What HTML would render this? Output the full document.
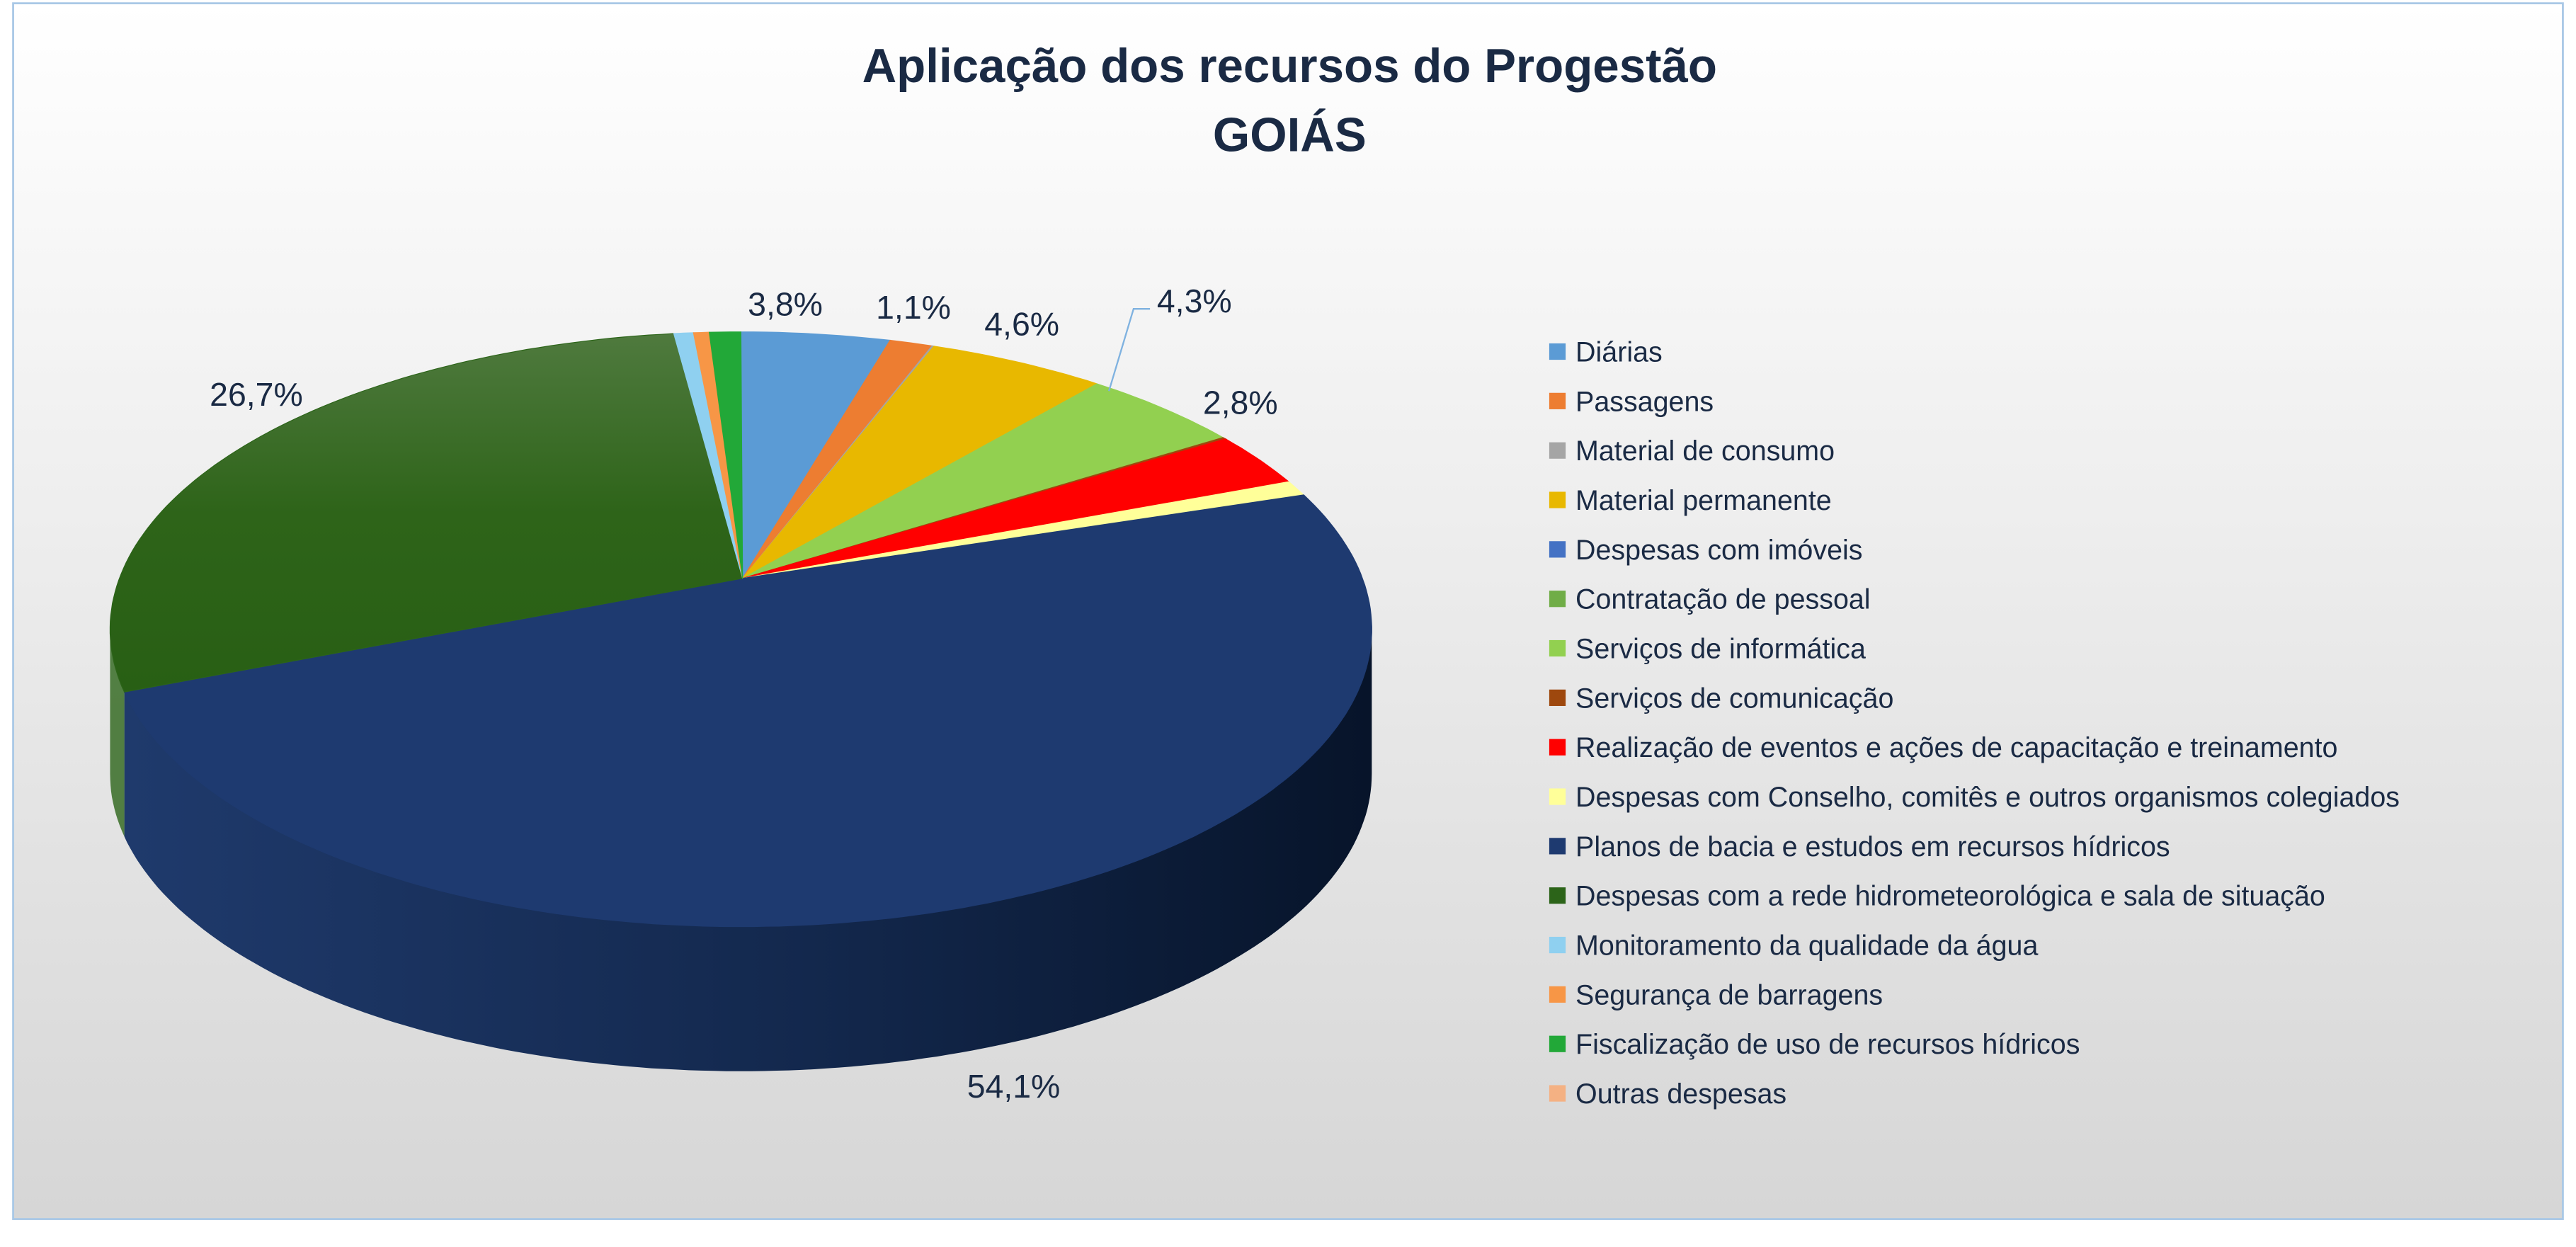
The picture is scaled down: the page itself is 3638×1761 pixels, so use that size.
<!DOCTYPE html>
<html><head><meta charset="utf-8">
<style>
html,body{margin:0;padding:0;background:#fff;}
svg{display:block;font-family:"Liberation Sans","DejaVu Sans",sans-serif;}
</style></head>
<body>
<svg id="chart" width="3638" height="1761" viewBox="0 0 1568 759" xmlns="http://www.w3.org/2000/svg">
<defs>
<linearGradient id="bg" x1="0" y1="0" x2="0" y2="1"><stop offset="0" stop-color="#ffffff"/><stop offset="1" stop-color="#d6d6d6"/></linearGradient>
<linearGradient id="sideg" x1="0" y1="0" x2="1" y2="0"><stop offset="0" stop-color="#1f3a6c"/><stop offset="0.55" stop-color="#13284d"/><stop offset="1" stop-color="#07142a"/></linearGradient>
<linearGradient id="greeng" x1="0" y1="0" x2="0" y2="1"><stop offset="0" stop-color="#4f7a3e"/><stop offset="0.5" stop-color="#2e6419"/><stop offset="1" stop-color="#285f14"/></linearGradient>
</defs>
<rect x="8" y="2" width="1552" height="740" fill="url(#bg)" stroke="#a9c8e6" stroke-width="1.2"/>
<text x="785" y="50" text-anchor="middle" font-size="29" font-weight="bold" fill="#1a2a44">Aplicação dos recursos do Progestão</text>
<text x="785" y="92" text-anchor="middle" font-size="29" font-weight="bold" fill="#1a2a44">GOIÁS</text>
<g id="sides"></g>
<g id="slices"></g>
<g id="labels"></g>
<g id="legend"></g>
</svg>
<script>
const categories = ["Diárias","Passagens","Material de consumo","Material permanente","Despesas com imóveis","Contratação de pessoal","Serviços de informática","Serviços de comunicação","Realização de eventos e ações de capacitação e treinamento","Despesas com Conselho, comitês e outros organismos colegiados","Planos de bacia e estudos em recursos hídricos","Despesas com a rede hidrometeorológica e sala de situação","Monitoramento da qualidade da água","Segurança de barragens","Fiscalização de uso de recursos hídricos","Outras despesas"];
const values = [3.8,1.1,0.05,4.6,0,0,4.3,0.1,2.8,0.8,54.1,26.7,0.5,0.4,0.8,0];
const labelTexts = ["3,8%","1,1%","","4,6%","","","4,3%","","2,8%","","54,1%","26,7%","","","",""];
const colors = ["#5b9bd5","#ed7d31","#a5a5a5","#e8b800","#4472c4","#70ad47","#92d050","#9e480e","#ff0000","#ffff99","#1e3a70","#2c6419","#8fd0f0","#f79646","#22a838","#f4b183"];

const NS="http://www.w3.org/2000/svg";
const cx=451, cy=383, rx=384, ry=181, ax=452, ay=352, depth=88;
function pt(a){return [cx+rx*Math.sin(a), cy-ry*Math.cos(a)];}
function mk(tag,attrs,parent){const e=document.createElementNS(NS,tag);for(const k in attrs)e.setAttribute(k,attrs[k]);parent.appendChild(e);return e;}
const total=values.reduce((a,b)=>a+b,0);
const sidesG=document.getElementById('sides'),slG=document.getElementById('slices'),lbG=document.getElementById('labels'),lgG=document.getElementById('legend');
let acc=0;
const mids=[];
values.forEach((v,i)=>{
  const a0=acc/total*2*Math.PI; acc+=v; const a1=acc/total*2*Math.PI;
  mids.push((a0+a1)/2);
  if(v<=0) return;
  // side wall (visible between PI/2 and 3PI/2)
  const s0=Math.max(a0,Math.PI/2), s1=Math.min(a1,3*Math.PI/2);
  if(s1>s0){
    let d="", pts=[];
    const n=Math.max(2,Math.ceil((s1-s0)/0.02));
    for(let k=0;k<=n;k++){pts.push(pt(s0+(s1-s0)*k/n));}
    d="M"+pts.map(p=>p[0].toFixed(1)+","+p[1].toFixed(1)).join(" L");
    for(let k=pts.length-1;k>=0;k--){d+=" L"+pts[k][0].toFixed(1)+","+(pts[k][1]+depth).toFixed(1);}
    d+="Z";
    const side=mk('path',{d:d,fill:i===10?'url(#sideg)':colors[i],'fill-opacity':i===10?1:0.8},sidesG);
    
    
  }
  const n=Math.max(2,Math.ceil((a1-a0)/0.02));
  let d="M"+ax+","+ay;
  for(let k=0;k<=n;k++){const p=pt(a0+(a1-a0)*k/n);d+=" L"+p[0].toFixed(1)+","+p[1].toFixed(1);}
  d+="Z";
  const sl=mk('path',{d:d,fill:i===11?'url(#greeng)':colors[i],stroke:colors[i],'stroke-width':0.5},slG);
  
  
});
// labels
const labelPos={0:[478,192],1:[556,194],3:[622,204],6:[727,190],8:[755,252],10:[617,668],11:[156,247]};
labelTexts.forEach((t,i)=>{
  if(!t) return;
  const m=mids[i]; const p=pt(m);
  let lx=labelPos[i]?labelPos[i][0]:p[0], ly=labelPos[i]?labelPos[i][1]:p[1];
  const tx=mk('text',{x:lx,y:ly,'text-anchor':'middle','font-size':20,fill:'#1a2a44'},lbG);
  tx.textContent=t;
  
  
});
const ll=mk('polyline',{points:"700,188 690,188 675,238",fill:'none',stroke:'#7fb2e0','stroke-width':1},lbG);


// legend
categories.forEach((c,i)=>{
  const y=215+i*30.1;
  const g=mk('g',{},lgG);
  
  
  mk('rect',{x:943,y:y-6,width:10,height:10,fill:colors[i]},g);
  const t=mk('text',{x:959,y:y+5,'font-size':17,fill:'#1a2a44'},g);
  t.textContent=c;
});
</script>
</body></html>
